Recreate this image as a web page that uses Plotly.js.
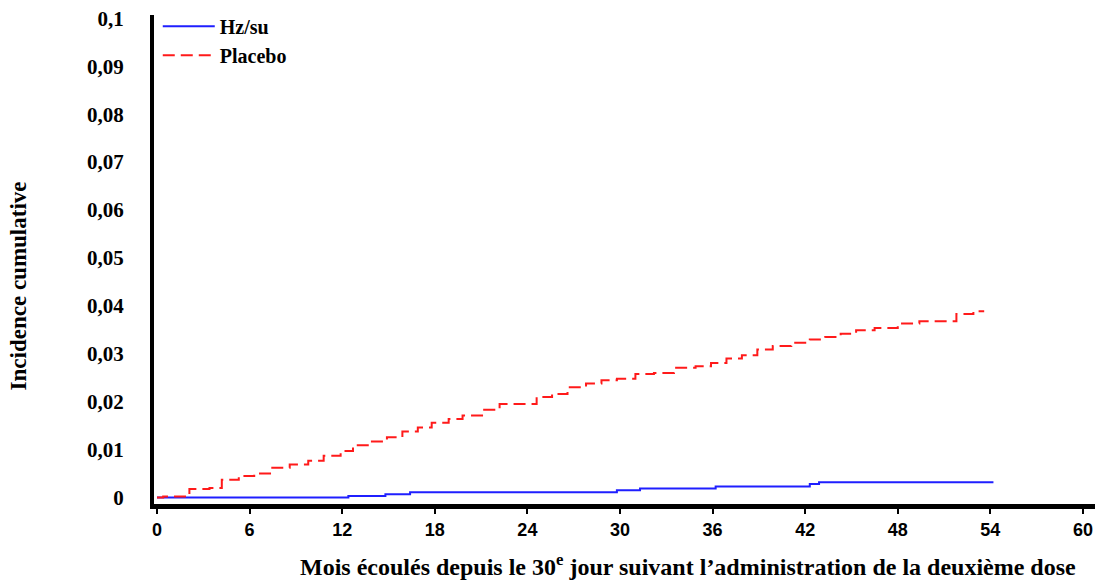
<!DOCTYPE html>
<html>
<head>
<meta charset="utf-8">
<script src="https://cdn.plot.ly/plotly-3.0.1.min.js"></script>
<style>html,body{margin:0;padding:0;background:#fff;}#chart{width:1102px;height:584px;}</style>
</head>
<body>
<div id="chart"></div>
<script>
// Months since day 30 after 2nd dose (step times) and cumulative incidence
const hzMonths = [0, 12.4, 14.8, 16.4, 29.8, 31.3, 36.2, 42.3, 42.9, 54.2];
const hzValues = [0, 0.0003, 0.0007, 0.0011, 0.0015, 0.0019, 0.0023, 0.0028, 0.0032, 0.0032];

const placeboMonths = [0, 0.4, 2.1, 3.4, 4.2, 5.3, 6.3, 7.4, 8.6, 9.8, 10.8, 11.9, 12.7, 13.8, 14.9, 15.9,
  16.9, 17.8, 18.9, 19.8, 21.2, 22.2, 24.6, 25.6, 26.6, 27.8, 28.8, 29.8, 31.0, 32.2, 33.5, 34.9,
  35.9, 36.9, 37.9, 38.9, 39.9, 41.1, 42.3, 43.3, 44.3, 45.3, 46.5, 48.0, 49.4, 51.8, 52.9, 53.6];
const placeboValues = [0, 0.0002, 0.0018, 0.0020, 0.0037, 0.0045, 0.0050, 0.0062, 0.0069, 0.0077, 0.0087, 0.0097, 0.0109, 0.0117, 0.0126, 0.0138,
  0.0146, 0.0156, 0.0164, 0.0171, 0.0183, 0.0195, 0.0210, 0.0216, 0.0230, 0.0238, 0.0245, 0.0248, 0.0258, 0.0260, 0.0271, 0.0274,
  0.0281, 0.0290, 0.0297, 0.0309, 0.0316, 0.0323, 0.0330, 0.0335, 0.0342, 0.0349, 0.0354, 0.0363, 0.0368, 0.0383, 0.0389, 0.0389];

const seriesNames = ['Hz/su', 'Placebo'];
const xTickVals = [0, 6, 12, 18, 24, 30, 36, 42, 48, 54, 60];
const xTitle = 'Mois écoulés depuis le 30<sup>e</sup> jour suivant l\u2019administration de la deuxième dose';
const yTitle = 'Incidence cumulative';

const serif = 'Liberation Serif, Times New Roman, serif';
const sans = 'Liberation Sans, Arial, sans-serif';

const traces = [
  {x: hzMonths, y: hzValues, name: seriesNames[0], type: 'scatter', mode: 'lines',
   line: {shape: 'hv', color: '#1f1fff', width: 2}},
  {x: placeboMonths, y: placeboValues, name: seriesNames[1], type: 'scatter', mode: 'lines',
   line: {shape: 'hv', color: '#ff1a1a', width: 2, dash: '12px,6px'}}
];

const layout = {
  width: 1102, height: 584,
  margin: {l: 154, r: 7, t: 12, b: 80},
  paper_bgcolor: '#fff', plot_bgcolor: '#fff',
  separators: ', ',
  showlegend: true,
  legend: {x: 0.004, y: 1.017, xanchor: 'left', yanchor: 'top', bgcolor: 'rgba(0,0,0,0)',
    itemwidth: 52,
    font: {family: serif, size: 20, color: '#000', weight: 'bold'}, tracegroupgap: 0},
  xaxis: {
    range: [-0.194, 60.78], showgrid: false, zeroline: false,
    showline: true, linecolor: '#000', linewidth: 5,
    tickmode: 'array', tickvals: xTickVals,
    ticks: 'outside', ticklen: 5, tickwidth: 2, tickcolor: '#000',
    tickfont: {family: sans, size: 18, color: '#000', weight: 'bold'}
  },
  yaxis: {
    range: [-0.00135, 0.1007], showgrid: false, zeroline: false,
    showline: true, linecolor: '#000', linewidth: 4,
    tickmode: 'linear', tick0: 0, dtick: 0.01,
    ticks: '', ticklabelstandoff: 22,
    tickfont: {family: serif, size: 21, color: '#000', weight: 'bold'}
  },
  annotations: [
    {text: xTitle, xref: 'paper', yref: 'paper', x: 0.5675, y: -0.125, xanchor: 'center', yanchor: 'middle',
     showarrow: false, font: {family: serif, size: 24, color: '#000', weight: 'bold'}},
    {text: yTitle, xref: 'paper', yref: 'paper', x: -0.1445, y: 0.445, xanchor: 'center', yanchor: 'middle',
     textangle: -90, showarrow: false, font: {family: serif, size: 23, color: '#000', weight: 'bold'}}
  ]
};

Plotly.newPlot('chart', traces, layout, {displayModeBar: false, staticPlot: true});
</script>
</body>
</html>
